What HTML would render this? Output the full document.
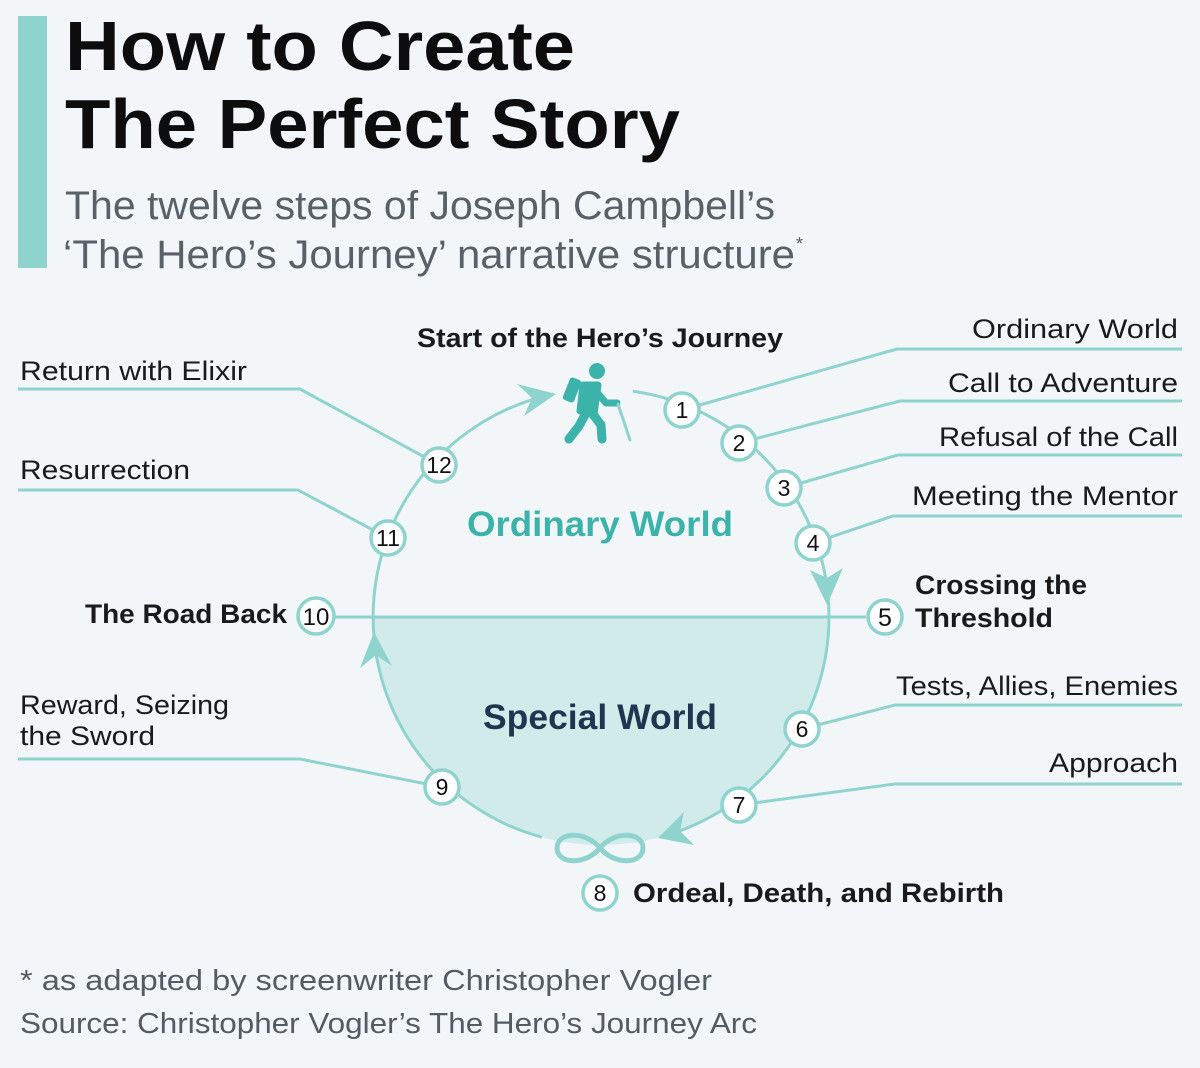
<!DOCTYPE html>
<html><head><meta charset="utf-8"><style>
html,body{margin:0;padding:0;background:#f2f6f9;}
svg{display:block}
text{font-family:"Liberation Sans","DejaVu Sans",sans-serif;}
</style></head><body>
<svg width="1200" height="1068" viewBox="0 0 1200 1068" xmlns="http://www.w3.org/2000/svg">
<rect width="1200" height="1068" fill="#f2f6f9"/>
<rect x="18" y="16" width="29" height="252" fill="#8fd3cf"/>
<text x="65" y="70" font-size="70" font-weight="bold" fill="#0d0d0d" textLength="510" lengthAdjust="spacingAndGlyphs">How to Create</text>
<text x="65" y="148" font-size="70" font-weight="bold" fill="#0d0d0d" textLength="615" lengthAdjust="spacingAndGlyphs">The Perfect Story</text>
<text x="65" y="219" font-size="40" fill="#5a6068" textLength="710" lengthAdjust="spacingAndGlyphs">The twelve steps of Joseph Campbell’s</text>
<text x="63" y="268" font-size="40" fill="#5a6068" textLength="732" lengthAdjust="spacingAndGlyphs">‘The Hero’s Journey’ narrative structure</text>
<text x="796" y="250" font-size="18" fill="#5a6068">*</text>

<path d="M373,617 A228,228 0 0 0 829,617 Z" fill="#d1ebeb"/>
<g fill="none" stroke="#8fd3cf" stroke-width="3">
<path d="M632.7,391.2 A228,228 0 0 1 660,837.2"/>
<path d="M542,837.2 A228,228 0 0 1 553.6,394"/>
<polyline points="682,410 897,349 1182,349"/>
<polyline points="739,443 900,401 1182,401"/>
<polyline points="784,488 898,455 1182,455"/>
<polyline points="813,543 893,516 1182,516"/>
<polyline points="802,729 895,705 1182,705"/>
<polyline points="739,805 895,784 1182,784"/>
<polyline points="439,465 300,389 18,389"/>
<polyline points="388,538 298,490 18,490"/>
<polyline points="442,787 300,759 18,759"/>
<line x1="333" y1="617" x2="866" y2="617"/>
<path d="M600,848 C585,830 557,832 557,848 C557,864 585,866 600,848 C615,830 643,832 643,848 C643,864 615,866 600,848 Z" stroke-width="5"/>
</g>
<g fill="#8fd3cf">
<polygon points="556,394 524,416 532,398 517,384"/>
<polygon points="827,605 843,568 827,578 810,570"/>
<polygon points="658,838 684,812 680,831 694,845"/>
<polygon points="374,632 392,666 376,655 360,668"/>
</g>
<g fill="#3bb3ab" stroke="#3bb3ab" stroke-linecap="round" stroke-linejoin="round">
<circle cx="597" cy="371" r="8" stroke="none"/>
<rect x="566" y="378" width="12" height="24" rx="3" transform="rotate(22 572 390)" stroke="none"/>
<path d="M583,385 L598,385 L594,414 L580,411 Z" stroke-width="7"/>
<polyline points="595,390 606,403 617,403" fill="none" stroke-width="7"/>
<polyline points="586,413 579,426 569,439" fill="none" stroke-width="9"/>
<polyline points="592,413 601,425 602,439" fill="none" stroke-width="9"/>
<line x1="618" y1="404" x2="630" y2="440" stroke="#8fd3cf" stroke-width="3"/>
</g>
<g fill="#fff" stroke="#8fd3cf" stroke-width="3.5">
<circle cx="682" cy="410" r="17"/><circle cx="739" cy="443" r="17"/><circle cx="784" cy="488" r="17"/>
<circle cx="813" cy="543" r="17"/><circle cx="885" cy="617" r="17"/><circle cx="802" cy="729" r="17"/>
<circle cx="739" cy="805" r="17"/><circle cx="600" cy="893" r="17"/><circle cx="442" cy="787" r="17"/>
<circle cx="316" cy="616" r="18"/><circle cx="388" cy="538" r="17"/><circle cx="439" cy="465" r="17"/>
</g>
<g font-size="23" fill="#111" text-anchor="middle">
<text x="682" y="418">1</text><text x="739" y="451">2</text><text x="784" y="496">3</text>
<text x="813" y="551">4</text><text x="885" y="626" font-size="25">5</text><text x="802" y="737">6</text>
<text x="739" y="813">7</text><text x="600" y="901">8</text><text x="442" y="795">9</text>
<text x="316" y="625" font-size="24">10</text><text x="388" y="546">11</text><text x="439" y="473">12</text>
</g>
<g font-size="27" fill="#1a1a1a">
<text x="417" y="347" font-weight="bold" textLength="366" lengthAdjust="spacingAndGlyphs">Start of the Hero’s Journey</text>
<text x="972" y="338" textLength="206" lengthAdjust="spacingAndGlyphs">Ordinary World</text>
<text x="948" y="392" textLength="230" lengthAdjust="spacingAndGlyphs">Call to Adventure</text>
<text x="939" y="446" textLength="239" lengthAdjust="spacingAndGlyphs">Refusal of the Call</text>
<text x="912" y="505" textLength="266" lengthAdjust="spacingAndGlyphs">Meeting the Mentor</text>
<text x="915" y="594" font-weight="bold" textLength="172" lengthAdjust="spacingAndGlyphs">Crossing the</text>
<text x="915" y="627" font-weight="bold" textLength="138" lengthAdjust="spacingAndGlyphs">Threshold</text>
<text x="896" y="695" textLength="282" lengthAdjust="spacingAndGlyphs">Tests, Allies, Enemies</text>
<text x="1049" y="772" textLength="129" lengthAdjust="spacingAndGlyphs">Approach</text>
<text x="633" y="902" font-weight="bold" textLength="371" lengthAdjust="spacingAndGlyphs">Ordeal, Death, and Rebirth</text>
<text x="85" y="623" font-weight="bold" textLength="202" lengthAdjust="spacingAndGlyphs">The Road Back</text>
<text x="20" y="380" textLength="227" lengthAdjust="spacingAndGlyphs">Return with Elixir</text>
<text x="20" y="479" textLength="170" lengthAdjust="spacingAndGlyphs">Resurrection</text>
<text x="20" y="714" textLength="209" lengthAdjust="spacingAndGlyphs">Reward, Seizing</text>
<text x="20" y="745" textLength="135" lengthAdjust="spacingAndGlyphs">the Sword</text>
</g>
<text x="467" y="536" font-size="35" font-weight="bold" fill="#3bb3ab" textLength="266" lengthAdjust="spacingAndGlyphs">Ordinary World</text>
<text x="483" y="729" font-size="35" font-weight="bold" fill="#1f3550" textLength="234" lengthAdjust="spacingAndGlyphs">Special World</text>
<text x="20" y="990" font-size="29" fill="#555b62" textLength="692" lengthAdjust="spacingAndGlyphs">* as adapted by screenwriter Christopher Vogler</text>
<text x="20" y="1033" font-size="29" fill="#555b62" textLength="737" lengthAdjust="spacingAndGlyphs">Source: Christopher Vogler’s The Hero’s Journey Arc</text>
</svg>
</body></html>
